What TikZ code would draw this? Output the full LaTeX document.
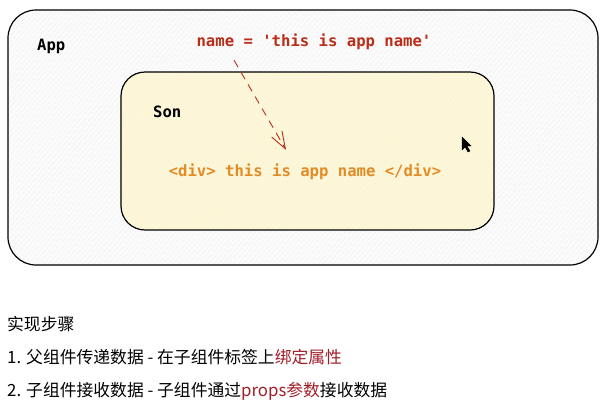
\documentclass[tikz,border=0pt]{standalone}
\usepackage{fontspec}
\setmonofont{DejaVu Sans Mono}
\newfontfamily\cjk{Noto Sans CJK SC}
\usetikzlibrary{arrows.meta,patterns.meta}

\definecolor{attrred}{RGB}{185,45,25}
\definecolor{divorange}{RGB}{226,140,40}
\definecolor{keyred}{RGB}{160,30,40}
\definecolor{sonfill}{RGB}{252,247,218}

\tikzset{
	compbox/.style={line width=1.2pt, rounded corners=#1},
	hatch/.style={pattern={Lines[angle=50,distance=4pt,line width=0.5pt]}, pattern color=#1},
	code/.style={font=\ttfamily\bfseries\fontsize{15.6}{18}\selectfont, inner sep=0pt},
	step text/.style={font=\cjk\fontsize{16.8}{20}\selectfont, anchor=west, inner sep=0pt}
}

\begin{document}
\begin{tikzpicture}[x=1pt,y=-1pt]

\path [use as bounding box] (0,0) rectangle (607,416);

% APP
\fill [rounded corners=28pt, fill=gray!3] (8,10) rectangle (598,265);
\fill [rounded corners=28pt, hatch=gray!22] (8,10) rectangle (598,265);
\draw [compbox=28pt] (8,10) rectangle (598,265);
\node [code, anchor=west] (app) at (37,46) {App};

% SON
\fill [rounded corners=24pt, fill=sonfill] (121,72) rectangle (494,230);
\fill [rounded corners=24pt, hatch=yellow!50!orange!30] (121,72) rectangle (494,230);
\draw [compbox=24pt] (121,72) rectangle (494,230);
\node [code, anchor=west] (son) at (153,112) {Son};

% TEXTS
\node [code, text=attrred] (attr) at (314,42) {name = 'this is app name'};
\node [code, text=divorange] (div) at (305,172) {<div> this is app name </div>};

% ARROW
\draw [attrred, line width=0.9pt, dash pattern=on 8pt off 6pt,
	-{Straight Barb[length=17pt,width=12pt]}]
	([xshift=-80pt,yshift=-10pt]attr.south) -- ([xshift=-19pt,yshift=14pt]div.north);

% CURSOR
\filldraw [black] (462,137) -- ++(0,13) -- ++(3,-3) -- ++(3,5) -- ++(2,-1) -- ++(-3,-5) -- ++(4,0) -- cycle;

% STEPS
\node [step text] (title) at (7,324) {实现步骤};
\node [step text] (step1) at (7,357) {1. 父组件传递数据 - 在子组件标签上\textcolor{keyred}{绑定属性}};
\node [step text] (step2) at (7,391) {2. 子组件接收数据 - 子组件通过\textcolor{keyred}{props参数}接收数据};

\end{tikzpicture}
\end{document}
